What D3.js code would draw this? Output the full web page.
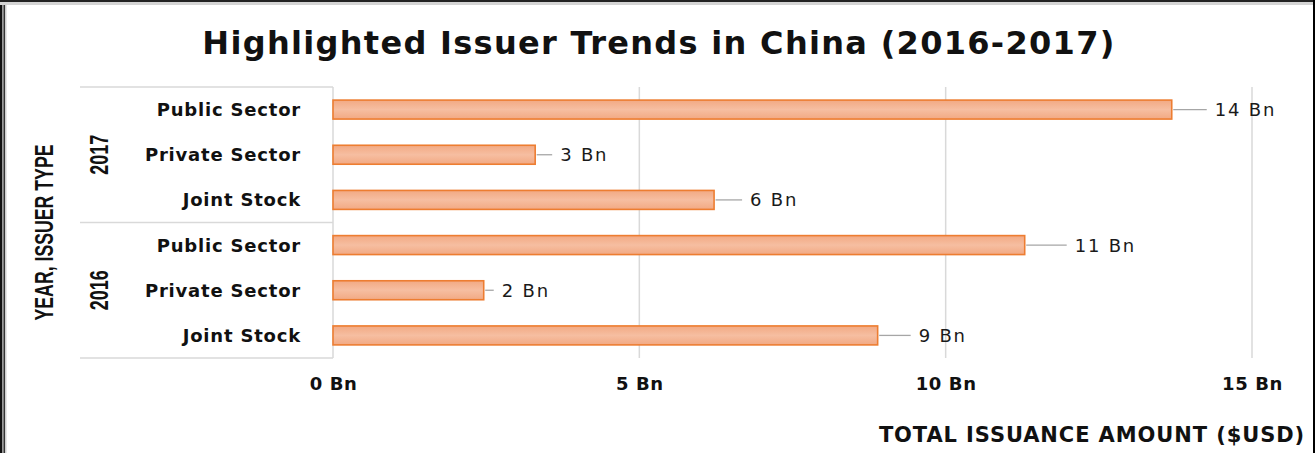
<!DOCTYPE html>
<html>
<head>
<meta charset="utf-8">
<script src="https://cdn.jsdelivr.net/npm/d3@7"></script>
<style>
  html, body { margin: 0; padding: 0; background: #fff; }
  svg { display: block; }
</style>
</head>
<body>
<svg id="chart" width="1315" height="453"></svg>
<script>
// Issuance by year and issuer type, in billions of USD (top row first)
const years = ["2017", "2016"];
const issuerTypes = ["Public Sector", "Private Sector", "Joint Stock"];
const rowYears = ["2017", "2017", "2017", "2016", "2016", "2016"];
const rowTypes = ["Public Sector", "Private Sector", "Joint Stock",
                  "Public Sector", "Private Sector", "Joint Stock"];
const issuance = [13.69, 3.30, 6.22, 11.29, 2.46, 8.89];
const xTicks = [0, 5, 10, 15];
const xTickLabels = ["0 Bn", "5 Bn", "10 Bn", "15 Bn"];

// gap (px) between the bar end and its value label, per row
const labelGap = [43, 25, 36, 50, 18, 41];

const rows = issuance.map((v, i) => ({ key: rowYears[i] + "|" + rowTypes[i], year: rowYears[i], type: rowTypes[i], value: v, gap: labelGap[i] }));

const svg = d3.select("#chart");
const W = 1315, H = 453;
const plot = { left: 333, right: 1252, top: 87, bottom: 358 };
const boxLeft = 80;

const x = d3.scaleLinear().domain([0, 15]).range([plot.left, plot.right]);
const y = d3.scaleBand().domain(rows.map(d => d.key)).range([plot.top, plot.bottom])
  .paddingInner(0.58).paddingOuter(0.29);

const grid = "#d9d9d9";

// outer frame
svg.append("rect").attr("x", 0).attr("y", 0).attr("width", W).attr("height", H).attr("fill", "#fff");
svg.append("rect").attr("x", 0).attr("y", 0).attr("width", 2).attr("height", H).attr("fill", "#111");
svg.append("rect").attr("x", 2).attr("y", 0).attr("width", 1.5).attr("height", H).attr("fill", "#9a9a9a");
svg.append("rect").attr("x", 3.5).attr("y", 0).attr("width", 1.5).attr("height", H).attr("fill", "#333");
svg.append("rect").attr("x", 5).attr("y", 0).attr("width", 1.5).attr("height", H).attr("fill", "#cfcfcf");
svg.append("rect").attr("x", 0).attr("y", 0).attr("width", W).attr("height", 2).attr("fill", "#222");
svg.append("rect").attr("x", 0).attr("y", 2).attr("width", W).attr("height", 3).attr("fill", "#d4d4d4");
svg.append("rect").attr("x", 1313).attr("y", 0).attr("width", 2).attr("height", H).attr("fill", "#000");

// title
svg.append("text")
  .attr("x", 659).attr("y", 54)
  .attr("text-anchor", "middle")
  .attr("font-family", "DejaVu Sans").attr("font-weight", "bold")
  .attr("font-size", 32).attr("letter-spacing", 1.3)
  .attr("fill", "#111")
  .text("Highlighted Issuer Trends in China (2016-2017)");

// vertical gridlines
svg.append("g").selectAll("line").data(xTicks.filter(t => t > 0)).join("line")
  .attr("x1", d => x(d)).attr("x2", d => x(d))
  .attr("y1", plot.top).attr("y2", plot.bottom)
  .attr("stroke", grid).attr("stroke-width", 1.5);

// category box: top, divider between the two years, bottom, and the zero line
const yearEdges = [plot.top, y(rows[3].key) - y.step() * y.paddingInner() / 2, plot.bottom];
svg.append("g").selectAll("line").data(yearEdges).join("line")
  .attr("x1", boxLeft).attr("x2", plot.left)
  .attr("y1", d => d).attr("y2", d => d)
  .attr("stroke", grid).attr("stroke-width", 1.5);
svg.append("line")
  .attr("x1", x(0)).attr("x2", x(0)).attr("y1", plot.top).attr("y2", plot.bottom)
  .attr("stroke", grid).attr("stroke-width", 1.5);

// bar gradient
const defs = svg.append("defs");
const grad = defs.append("linearGradient").attr("id", "barFill").attr("x1", 0).attr("x2", 0).attr("y1", 0).attr("y2", 1);
grad.append("stop").attr("offset", "0%").attr("stop-color", "#f2a983");
grad.append("stop").attr("offset", "50%").attr("stop-color", "#f6bea1");
grad.append("stop").attr("offset", "100%").attr("stop-color", "#f2a983");

// bars
svg.append("g").selectAll("rect").data(rows).join("rect")
  .attr("x", x(0)).attr("y", d => y(d.key))
  .attr("width", d => x(d.value) - x(0)).attr("height", y.bandwidth())
  .attr("fill", "url(#barFill)")
  .attr("stroke", "#ed7d31").attr("stroke-width", 1.6);

// leader lines and value labels
const lbl = svg.append("g");
lbl.selectAll("line").data(rows).join("line")
  .attr("x1", d => x(d.value) + 1.5).attr("x2", d => x(d.value) + d.gap - 8)
  .attr("y1", d => y(d.key) + y.bandwidth() / 2).attr("y2", d => y(d.key) + y.bandwidth() / 2)
  .attr("stroke", "#a6a6a6").attr("stroke-width", 1.3);
lbl.selectAll("text").data(rows).join("text")
  .attr("x", d => x(d.value) + d.gap).attr("y", d => y(d.key) + y.bandwidth() / 2 + 6.5)
  .attr("font-family", "DejaVu Sans").attr("font-size", 18).attr("letter-spacing", 1.8)
  .attr("fill", "#1a1a1a")
  .text(d => Math.round(d.value) + " Bn");

// issuer type labels
svg.append("g").selectAll("text").data(rows).join("text")
  .attr("x", 301).attr("y", d => y(d.key) + y.bandwidth() / 2 + 6.5)
  .attr("text-anchor", "end")
  .attr("font-family", "DejaVu Sans").attr("font-weight", "bold")
  .attr("font-size", 18).attr("letter-spacing", 0.8)
  .attr("fill", "#111")
  .text(d => d.type);

// year labels (rotated, condensed)
years.forEach(yr => {
  const keys = rows.filter(r => r.year === yr).map(r => r.key);
  const cy = (y(keys[0]) + y(keys[keys.length - 1]) + y.bandwidth()) / 2;
  svg.append("text")
    .attr("transform", `translate(108,${cy}) rotate(-90)`)
    .attr("text-anchor", "middle")
    .attr("font-family", "Liberation Sans, Arial, sans-serif").attr("font-weight", "bold")
    .attr("font-size", 25)
    .attr("textLength", 40).attr("lengthAdjust", "spacingAndGlyphs")
    .attr("fill", "#111")
    .text(yr);
});

// y axis title (rotated, condensed)
svg.append("text")
  .attr("transform", `translate(53,${(plot.top + plot.bottom) / 2 + 10}) rotate(-90)`)
  .attr("text-anchor", "middle")
  .attr("font-family", "Liberation Sans, Arial, sans-serif").attr("font-weight", "bold")
  .attr("font-size", 25)
  .attr("textLength", 176).attr("lengthAdjust", "spacingAndGlyphs")
  .attr("fill", "#111")
  .text("YEAR, ISSUER TYPE");

// x axis tick labels
const xAxis = d3.axisBottom(x).tickValues(xTicks).tickSize(0)
  .tickFormat((d, i) => xTickLabels[i]);
const gx = svg.append("g").attr("transform", `translate(0,${374})`).call(xAxis);
gx.select(".domain").remove();
gx.selectAll("text")
  .attr("font-family", "DejaVu Sans").attr("font-weight", "bold")
  .attr("font-size", 18).attr("letter-spacing", 0.6)
  .attr("fill", "#111");

// x axis title
svg.append("text")
  .attr("x", 1305).attr("y", 442)
  .attr("text-anchor", "end")
  .attr("font-family", "DejaVu Sans").attr("font-weight", "bold")
  .attr("font-size", 21).attr("letter-spacing", 0.9)
  .attr("fill", "#111")
  .text("TOTAL ISSUANCE AMOUNT ($USD)");
</script>
</body>
</html>
